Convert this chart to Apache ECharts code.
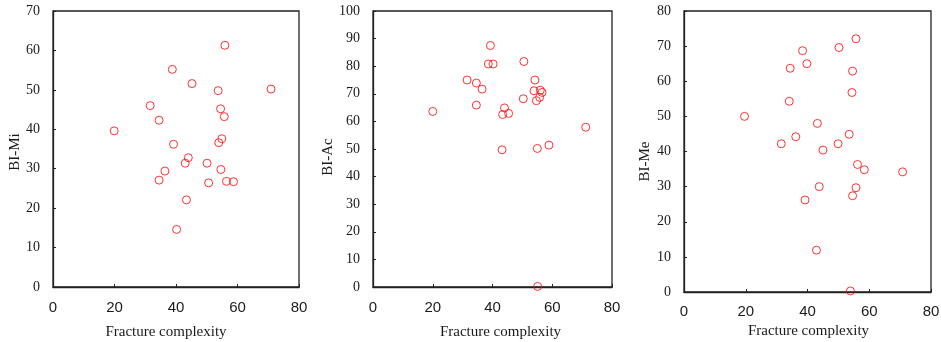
<!DOCTYPE html>
<html>
<head>
<meta charset="utf-8">
<script src="https://cdn.jsdelivr.net/npm/echarts@6/dist/echarts.min.js"></script>
<style>
  html, body { margin: 0; padding: 0; background: #fff; }
  #chart { width: 941px; height: 342px; }
</style>
</head>
<body>
<div id="chart"></div>
<script>
// Fracture complexity vs brittleness indices
const miPoints = [
  [19.9, 39.6], [31.6, 46.0], [34.5, 42.3], [34.5, 27.1], [36.4, 29.4], [38.8, 55.2],
  [39.2, 36.2], [40.2, 14.6], [43.0, 31.4], [44.0, 32.8], [43.4, 22.1], [45.2, 51.6],
  [50.1, 31.4], [50.6, 26.4], [53.7, 49.8], [53.9, 36.6], [54.9, 37.6], [54.5, 45.2],
  [54.6, 29.8], [55.7, 43.2], [55.9, 61.3], [56.4, 26.8], [58.7, 26.7], [70.9, 50.2]
];
const acPoints = [
  [20.0, 63.6], [31.5, 75.0], [34.6, 73.9], [34.6, 65.9], [36.5, 71.7], [39.3, 87.5],
  [38.6, 80.8], [40.2, 80.8], [43.4, 62.5], [44.0, 64.9], [43.2, 49.7], [45.4, 62.9],
  [50.3, 68.2], [50.5, 81.7], [54.2, 75.0], [53.9, 71.1], [54.7, 67.5], [55.0, 50.2],
  [55.1, 0.2], [55.8, 68.7], [56.0, 71.3], [56.6, 70.5], [58.9, 51.4], [71.2, 57.9]
];
const mePoints = [
  [19.6, 50.0], [31.5, 42.2], [34.4, 63.7], [34.1, 54.3], [36.2, 44.2], [38.4, 68.7],
  [39.8, 65.0], [39.2, 26.2], [43.2, 48.0], [42.9, 11.9], [43.8, 30.0], [45.0, 40.4],
  [50.2, 69.6], [49.9, 42.2], [53.5, 44.9], [54.6, 62.9], [54.4, 56.8], [54.6, 27.4],
  [53.9, 0.3], [55.7, 72.1], [56.2, 36.3], [55.7, 29.7], [58.4, 34.8], [70.8, 34.2]
];
const yNames = ['BI-Mi', 'BI-Ac', 'BI-Me'];
const yMax = [70, 100, 80];
const xName = 'Fracture complexity';

// layout per panel (px); *Shift nudges the axis titles along their own direction
const panels = [
  { left: 53, width: 246, top: 11, height: 276, xLabelMargin: 13, xNameGap: 38, xNameShift: -10, yNameGap: 30, yNameShift: -3 },
  { left: 373, width: 239, top: 11, height: 276, xLabelMargin: 13, xNameGap: 38, xNameShift: 8, yNameGap: 37, yNameShift: -8 },
  { left: 684, width: 247, top: 11, height: 281, xLabelMargin: 12, xNameGap: 32, xNameShift: 1, yNameGap: 31, yNameShift: -10 }
];
const seriesData = [miPoints, acPoints, mePoints];

const serif = 'Liberation Serif';
const sans = 'Liberation Sans';

const shiftPad = s => (s >= 0 ? [0, 0, 0, 2 * s] : [0, -2 * s, 0, 0]);

const chart = echarts.init(document.getElementById('chart'), null, { renderer: 'canvas' });
chart.setOption({
  animation: false,
  grid: panels.map(p => ({
    left: p.left, width: p.width, top: p.top, height: p.height,
    containLabel: false, outerBoundsMode: 'none',
    show: true, borderColor: '#222', borderWidth: 1.3, backgroundColor: 'transparent'
  })),
  xAxis: panels.map((p, i) => ({
    type: 'value',
    gridIndex: i,
    min: 0,
    max: 80,
    interval: 20,
    name: xName,
    nameLocation: 'middle',
    nameGap: p.xNameGap,
    nameMoveOverlap: false,
    nameTextStyle: { fontFamily: serif, fontSize: 15, color: '#1a1a1a', padding: shiftPad(p.xNameShift) },
    axisLine: { lineStyle: { color: '#222', width: 1.3 } },
    axisTick: { inside: true, length: 3, lineStyle: { color: '#222' } },
    axisLabel: { fontFamily: sans, fontSize: 15, color: '#1a1a1a', margin: p.xLabelMargin },
    splitLine: { show: false }
  })),
  yAxis: panels.map((p, i) => ({
    type: 'value',
    gridIndex: i,
    min: 0,
    max: yMax[i],
    interval: 10,
    name: yNames[i],
    nameLocation: 'middle',
    nameGap: p.yNameGap,
    nameMoveOverlap: false,
    nameTextStyle: { fontFamily: serif, fontSize: 15, color: '#1a1a1a', padding: shiftPad(p.yNameShift) },
    axisLine: { lineStyle: { color: '#222', width: 1.3 } },
    axisTick: { inside: true, length: 3, lineStyle: { color: '#222' } },
    axisLabel: { fontFamily: serif, fontSize: 14, color: '#1a1a1a', margin: 13 },
    splitLine: { show: false }
  })),
  series: seriesData.map((d, i) => ({
    type: 'scatter',
    xAxisIndex: i,
    yAxisIndex: i,
    data: d,
    symbol: 'circle',
    symbolSize: 8,
    itemStyle: { color: 'transparent', borderColor: '#ff0000', borderWidth: 1 }
  }))
});
</script>
</body>
</html>
